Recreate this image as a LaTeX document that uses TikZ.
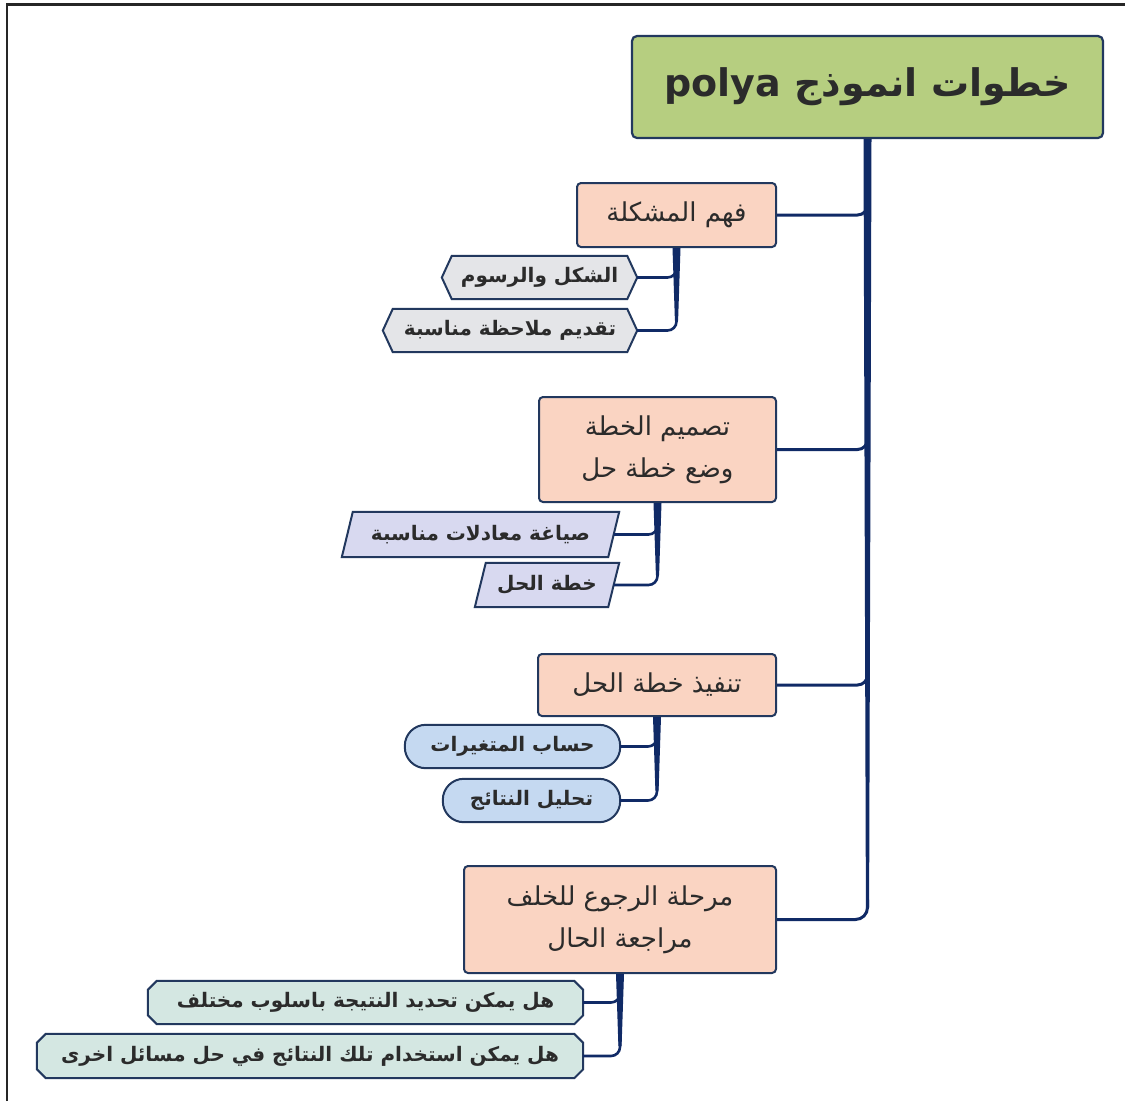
\documentclass[tikz,border=0pt]{standalone}
\usepackage{fontspec}
\usetikzlibrary{calc}
\TeXXeTstate=1
\newfontfamily\arfont[Script=Arabic]{DejaVu Sans}
\definecolor{titlefill}{HTML}{B6CE80}
\definecolor{bordercol}{HTML}{22385E}
\definecolor{conncol}{HTML}{102A66}
\definecolor{salmon}{HTML}{FAD4C2}
\definecolor{grayfill}{HTML}{E4E5E8}
\definecolor{lavfill}{HTML}{D8D9F0}
\definecolor{bluefill}{HTML}{C5D9F1}
\definecolor{tealfill}{HTML}{D4E7E2}
\definecolor{txtcol}{HTML}{2B2B2B}
\pgfdeclarelayer{background}
\pgfsetlayers{background,main}
\newcommand\hexpath[2]{%
  \path[shapeline,#2] ($(#1.north west)+(10,0)$) -- ($(#1.north east)+(-10,0)$) -- (#1.east)
    -- ($(#1.south east)+(-10,0)$) -- ($(#1.south west)+(10,0)$) -- (#1.west) -- cycle;}
\newcommand\parapath[2]{%
  \path[shapeline,#2] ($(#1.north west)+(11,0)$) -- (#1.north east)
    -- ($(#1.south east)+(-11,0)$) -- (#1.south west) -- cycle;}
\newcommand\octpath[2]{%
  \path[shapeline,#2] ($(#1.north west)+(9,0)$) -- ($(#1.north east)+(-9,0)$) -- ($(#1.north east)+(0,9)$)
    -- ($(#1.south east)+(0,-9)$) -- ($(#1.south east)+(-9,0)$) -- ($(#1.south west)+(9,0)$)
    -- ($(#1.south west)+(0,-9)$) -- ($(#1.north west)+(0,9)$) -- cycle;}
\newcommand\taper[2]{%
  \fill[conncol] ($(#1)+(-4,0)$) -- ($(#1)+(4,0)$) -- ($(#2)+(1.6,0)$) -- ($(#2)+(-1.6,0)$) -- cycle;}
\begin{document}
\begin{tikzpicture}[x=1pt,y=-1pt,
  titlebox/.style={rectangle, rounded corners=5, draw=bordercol, line width=2.2, fill=titlefill,
    inner sep=0, text=txtcol, font=\arfont\bfseries\fontsize{38}{46}\selectfont},
  mainbox/.style={rectangle, rounded corners=4, draw=bordercol, line width=2, fill=salmon,
    inner sep=0, text=txtcol, align=center, font=\arfont\fontsize{26}{42}\selectfont},
  subbox/.style={rectangle, inner sep=0, text=txtcol, font=\arfont\bfseries\fontsize{20}{24}\selectfont},
  shapeline/.style={draw=bordercol, line width=2},
  conn/.style={draw=conncol, line width=3, rounded corners=10},
  subconn/.style={draw=conncol, line width=2.6, rounded corners=9}]
\useasboundingbox (0,0) rectangle (1125,1101);
\draw[black!85, line width=2.5] (7,1101) -- (7,4.5) -- (1125,4.5);

% title and main steps
\node[titlebox, minimum width=471, minimum height=102] (title) at (867.5,87)
  {\beginR خطوات انموذج \beginL polya\endL\endR};
\node[mainbox, minimum width=199, minimum height=64] (n1) at (676.5,215)
  {\beginR فهم المشكلة\endR};
\node[mainbox, minimum width=237, minimum height=105] (n2) at (657.5,449.5)
  {\beginR تصميم الخطة\endR\\\beginR وضع خطة حل\endR};
\node[mainbox, minimum width=238, minimum height=62] (n3) at (657,685)
  {\beginR تنفيذ خطة الحل\endR};
\node[mainbox, minimum width=312, minimum height=107] (n4) at (620,919.5)
  {\beginR مرحلة الرجوع للخلف\endR\\\beginR مراجعة الحال\endR};

% sub nodes
\node[subbox, minimum width=195, minimum height=43] (s11) at (539.5,277.5) {\beginR الشكل والرسوم\endR};
\node[subbox, minimum width=254, minimum height=43] (s12) at (510,330.5) {\beginR تقديم ملاحظة مناسبة\endR};
\node[subbox, minimum width=277, minimum height=45] (s21) at (480.5,534.5) {\beginR صياغة معادلات مناسبة\endR};
\node[subbox, minimum width=144, minimum height=44] (s22) at (547,585) {\beginR خطة الحل\endR};
\node[subbox, minimum width=215, minimum height=43] (s31) at (512.5,746.5) {\beginR حساب المتغيرات\endR};
\node[subbox, minimum width=177, minimum height=43] (s32) at (531.5,800.5) {\beginR تحليل النتائج\endR};
\node[subbox, minimum width=435, minimum height=43] (s41) at (365.5,1002.5) {\beginR هل يمكن تحديد النتيجة باسلوب مختلف\endR};
\node[subbox, minimum width=546, minimum height=44] (s42) at (310,1056) {\beginR هل يمكن استخدام تلك النتائج في حل مسائل اخرى\endR};

\begin{pgfonlayer}{background}
  \hexpath{s11}{fill=grayfill}
  \hexpath{s12}{fill=grayfill}
  \parapath{s21}{fill=lavfill}
  \parapath{s22}{fill=lavfill}
  \path[shapeline, fill=bluefill, rounded corners=21] (s31.north west) rectangle (s31.south east);
  \path[shapeline, fill=bluefill, rounded corners=21] (s32.north west) rectangle (s32.south east);
  \octpath{s41}{fill=tealfill}
  \octpath{s42}{fill=tealfill}
\end{pgfonlayer}

% trunk
\coordinate (tb) at (title.south |- n4.east);
\taper{title.south}{$(tb)+(0,-12)$}
\draw[conn, rounded corners=12] ($(tb)+(0,-20)$) -- (tb) -- (n4.east);
\draw[conn] (n1.east) -- (n1.east -| title.south) -- ++(0,-16);
\draw[conn] (n2.east) -- (n2.east -| title.south) -- ++(0,-16);
\draw[conn] (n3.east) -- (n3.east -| title.south) -- ++(0,-16);

% group 1
\coordinate (b1) at (n1.south |- s12.east);
\taper{n1.south}{$(b1)+(0,-10)$}
\draw[subconn] ($(b1)+(0,-18)$) -- (b1) -- (s12.east);
\draw[subconn] (s11.east) -- (s11.east -| n1.south) -- ++(0,-14);

% group 2
\coordinate (e21) at ($(s21.east)+(-5.5,0)$);
\coordinate (e22) at ($(s22.east)+(-5.5,0)$);
\coordinate (b2) at (n2.south |- e22);
\taper{n2.south}{$(b2)+(0,-10)$}
\draw[subconn] ($(b2)+(0,-18)$) -- (b2) -- (e22);
\draw[subconn] (e21) -- (e21 -| n2.south) -- ++(0,-14);

% group 3
\coordinate (b3) at (n3.south |- s32.east);
\taper{n3.south}{$(b3)+(0,-10)$}
\draw[subconn] ($(b3)+(0,-18)$) -- (b3) -- (s32.east);
\draw[subconn] (s31.east) -- (s31.east -| n3.south) -- ++(0,-14);

% group 4
\coordinate (b4) at (n4.south |- s42.east);
\taper{n4.south}{$(b4)+(0,-10)$}
\draw[subconn] ($(b4)+(0,-18)$) -- (b4) -- (s42.east);
\draw[subconn] (s41.east) -- (s41.east -| n4.south) -- ++(0,-14);
\end{tikzpicture}
\end{document}
